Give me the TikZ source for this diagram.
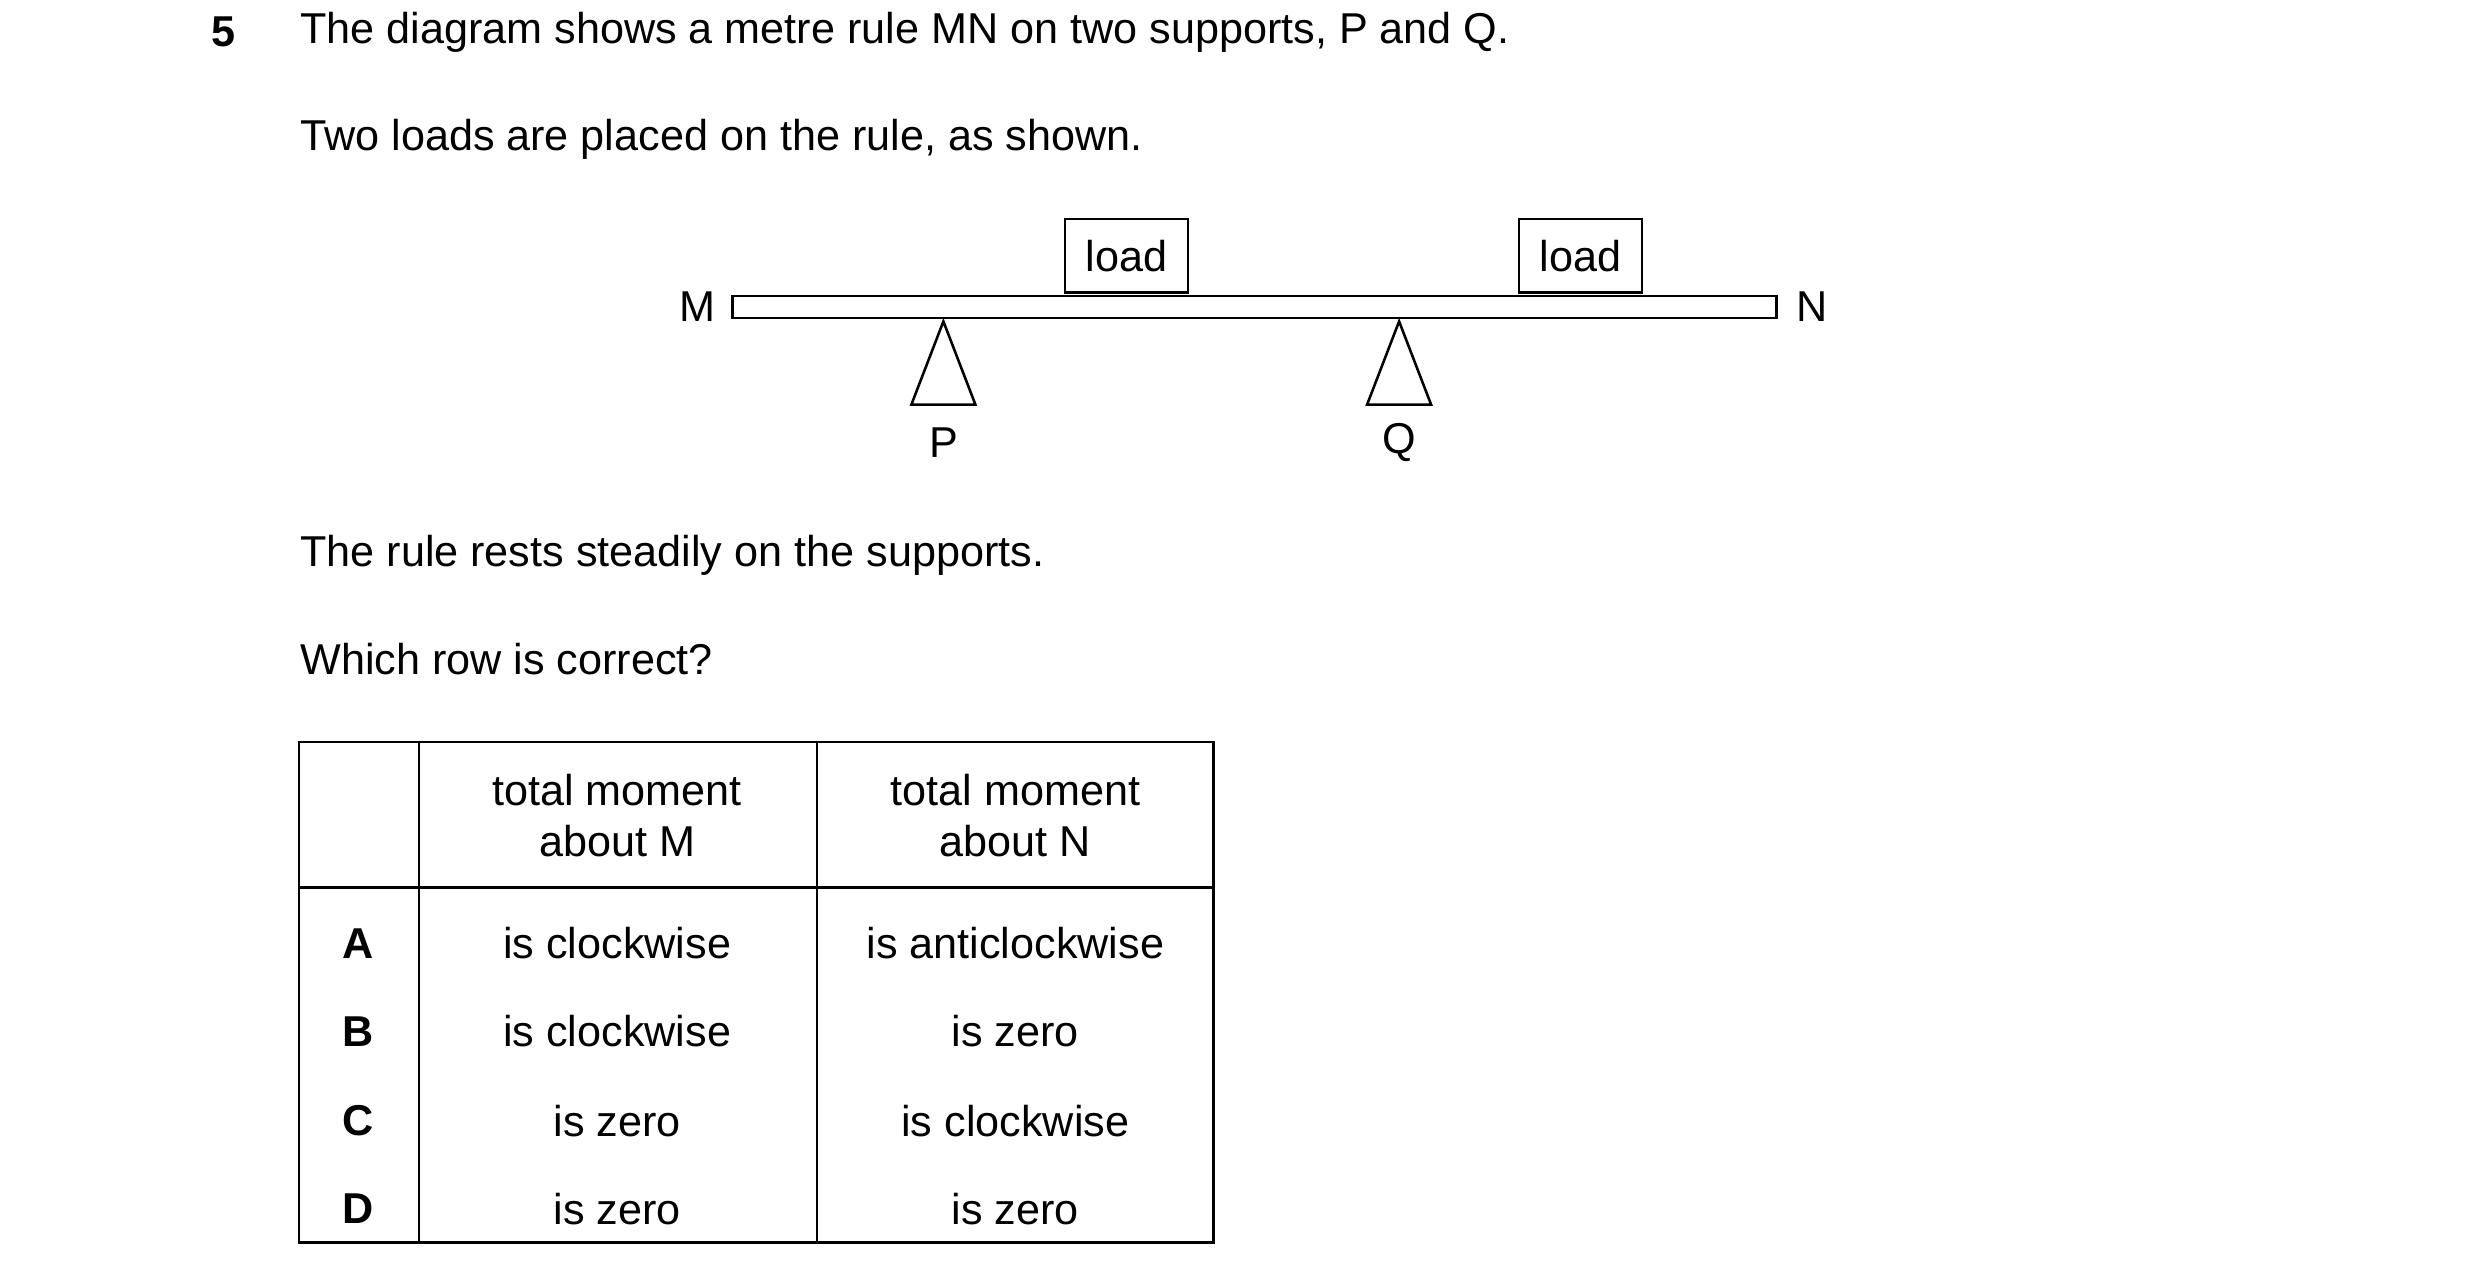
\documentclass[tikz,border=0pt]{standalone}
\usepackage{fontspec}
\setmainfont{Liberation Sans}
\begin{document}
\begin{tikzpicture}[x=1pt,y=-1pt,line width=1.6pt,
  txt/.style={font=\fontsize{27}{32}\selectfont,inner sep=0pt},
  lt/.style={txt,anchor=west},
  bx/.style={draw,minimum width=77pt,minimum height=46pt,inner sep=0pt,font=\fontsize{27}{32}\selectfont}]
\useasboundingbox (0,0) rectangle (1551,794);
\node[txt,font=\bfseries\fontsize{27}{32}\selectfont] (n5) at (140,20) {5};
\node[lt] (t1) at (187,20) {The diagram shows a metre rule MN on two supports, P and Q.};
\node[lt] (t2) at (187,87) {Two loads are placed on the rule, as shown.};
\draw (458,185) rectangle (1111,199);
\node[txt] (M) at (436,192) {M};
\node[txt] (N) at (1133,192) {N};
\node[bx] (L1) at (704.5,160) {load};
\node[bx] (L2) at (988.5,160) {load};
\draw (590,201) -- (570,253) -- (610,253) -- cycle;
\draw (875,201) -- (855,253) -- (895,253) -- cycle;
\node[txt] (P) at (590,277) {P};
\node[txt] (Q) at (875,277) {Q};
\node[lt] (t3) at (187,347) {The rule rests steadily on the supports.};
\node[lt] (t4) at (187,412) {Which row is correct?};
\draw (187,464) rectangle (759,777);
\draw (262,464) -- (262,777);
\draw (511,464) -- (511,777);
\draw (187,555) -- (759,555);
\node[txt,align=center] (h1) at (386,510) {total moment\\about M};
\node[txt,align=center] (h2) at (635,510) {total moment\\about N};
\foreach \l/\a/\b/\y in {A/is clockwise/is anticlockwise/590, B/is clockwise/is zero/645, C/is zero/is clockwise/701, D/is zero/is zero/756}{
  \node[txt,font=\bfseries\fontsize{27}{32}\selectfont] (r\l) at (224,\y) {\l};
  \node[txt] (a\l) at (386,\y) {\a};
  \node[txt] (b\l) at (635,\y) {\b};
}
\end{tikzpicture}
\end{document}
